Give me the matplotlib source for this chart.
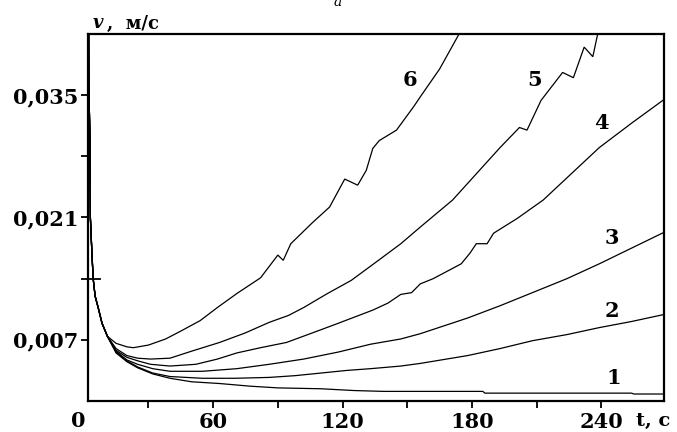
import matplotlib
matplotlib.use("Agg")
import matplotlib.pyplot as plt

# ---- data ----
t_start = [2.0, 2.4, 2.9, 3.1, 3.8, 4.4, 5.3, 6.7, 8.5, 11.0]
v_start = [0.060, 0.036, 0.030, 0.021, 0.017, 0.014, 0.012, 0.0107, 0.0089, 0.0074]

t1 = [15, 20, 25, 32, 40, 50, 63, 77, 90, 110, 125, 139, 185, 186, 254, 255, 269]
v1 = [0.0055, 0.0045, 0.0038, 0.0031, 0.0026, 0.0022, 0.0020, 0.0017, 0.0015,
      0.0014, 0.0012, 0.0011, 0.0011, 0.0009, 0.0009, 0.0008, 0.0008]

t2 = [15, 20, 25, 32, 40, 55, 70, 86, 98, 110, 122, 133, 147, 156, 178, 193,
      208, 224, 239, 254, 269]
v2 = [0.0056, 0.0046, 0.0039, 0.0032, 0.0028, 0.0026, 0.0026, 0.0027, 0.0029,
      0.0032, 0.0035, 0.0037, 0.0040, 0.0043, 0.0052, 0.0060, 0.0069, 0.0076,
      0.0084, 0.0091, 0.0099]

t3 = [15, 20, 25, 32, 40, 55, 71, 86, 102, 118, 133, 147, 156, 178, 193, 208,
      224, 239, 254, 269]
v3 = [0.0057, 0.0047, 0.0042, 0.0037, 0.0034, 0.0034, 0.0037, 0.0042, 0.0048,
      0.0056, 0.0065, 0.0071, 0.0077, 0.0095, 0.0109, 0.0124, 0.0140, 0.0157,
      0.0175, 0.0193]

t4 = [15, 20, 25, 31, 40, 52, 62, 71, 82, 94, 105, 117, 134, 141, 147, 152,
      156, 162, 175, 179, 182, 187, 190, 201, 213, 226, 239, 254, 269]
v4 = [0.0058, 0.0050, 0.0046, 0.0042, 0.0040, 0.0042, 0.0048, 0.0055, 0.0061,
      0.0067, 0.0077, 0.0088, 0.0104, 0.0112, 0.0122, 0.0124, 0.0134, 0.0140,
      0.0157, 0.0169, 0.0180, 0.0180, 0.0192, 0.0209, 0.0230, 0.0260, 0.0290,
      0.0318, 0.0345]

t5 = [15, 20, 25, 31, 40, 50, 63, 75, 86, 95, 102, 113, 124, 135, 147, 156,
      171, 182, 193, 202, 205.5, 212, 222, 227, 232, 236, 240]
v5 = [0.0060, 0.0052, 0.0049, 0.0048, 0.0049, 0.0057, 0.0067, 0.0078, 0.0090,
      0.0098, 0.0107, 0.0123, 0.0138, 0.0158, 0.0180, 0.0199, 0.0230, 0.0260,
      0.0290, 0.0313, 0.0310, 0.0344, 0.0376, 0.0370, 0.0405, 0.0394, 0.0440]

t6 = [15, 20, 23, 30, 38, 45, 54, 62, 71, 82, 90, 92.5, 96, 106, 114, 121,
      127, 131, 134, 137, 145, 153, 156, 165, 174, 178]
v6 = [0.0066, 0.0062, 0.0061, 0.0064, 0.0071, 0.0080, 0.0092, 0.0107, 0.0123,
      0.0141, 0.0167, 0.0161, 0.0180, 0.0204, 0.0222, 0.0254, 0.0247, 0.0264,
      0.0289, 0.0298, 0.0310, 0.0337, 0.0348, 0.0380, 0.0420, 0.0445]

curves = [(t1, v1), (t2, v2), (t3, v3), (t4, v4), (t5, v5), (t6, v6)]

labels = ["1", "2", "3", "4", "5", "6"]
label_t = [245.5, 245, 245, 240, 209, 151]
label_v = [0.0026, 0.0103, 0.0187, 0.0318, 0.0367, 0.0367]

y_ticks = [0.007, 0.014, 0.021, 0.028, 0.035]
y_ticklabels = ["0,007", "", "0,021", "", "0,035"]
x_ticks = [30, 60, 90, 120, 150, 180, 210, 240]
x_ticklabels = ["", "60", "", "120", "", "180", "", "240"]

# ---- figure ----
W, H = 677, 432
fig = plt.figure(figsize=(W / 100, H / 100), dpi=100)
ax = fig.add_axes([88 / W, (H - 401) / H, (664 - 88) / W, (401 - 34) / H])

font = dict(family="DejaVu Serif", fontweight="bold")

for t, v in curves:
    ax.plot(t_start + t, v_start + v, color="black", lw=0.9, solid_joinstyle="miter")

for lab, lt, lv in zip(labels, label_t, label_v):
    ax.text(lt, lv, lab, ha="center", va="center", fontsize=15, **font)

ax.set_xlim(2.0, 269)
ax.set_ylim(0, 0.042)

ax.set_yticks(y_ticks)
ax.set_yticklabels(y_ticklabels, fontsize=15, **font)
ax.set_xticks(x_ticks)
ax.set_xticklabels(x_ticklabels, fontsize=15, **font)
ax.tick_params(axis="both", direction="out", length=5, width=1.3, pad=2, color="black")
ax.tick_params(axis="x", pad=3)
# the 0.014 tick crosses the spine
ax.plot([2.0, 7.5], [0.014, 0.014], color="black", lw=1.3, clip_on=False)

for s in ax.spines.values():
    s.set_linewidth(1.6)
    s.set_color("black")

# origin label and axis titles
fig.text(78 / W, 1 - 421 / H, "0", ha="center", va="center", fontsize=15, **font)
fig.text(93 / W, 1 - 23 / H, "v", ha="left", va="center", fontsize=13,
         family="DejaVu Serif", fontweight="bold", fontstyle="italic")
fig.text(107 / W, 1 - 24 / H, ",  м/с", ha="left", va="center", fontsize=13, **font)
fig.text(653 / W, 1 - 421 / H, "t, c", ha="center", va="center", fontsize=14, **font)
fig.text(338 / W, 0.995, "a", ha="center", va="center", fontsize=10,
         family="DejaVu Serif", fontstyle="italic")

fig.savefig("out.png", dpi=100)
